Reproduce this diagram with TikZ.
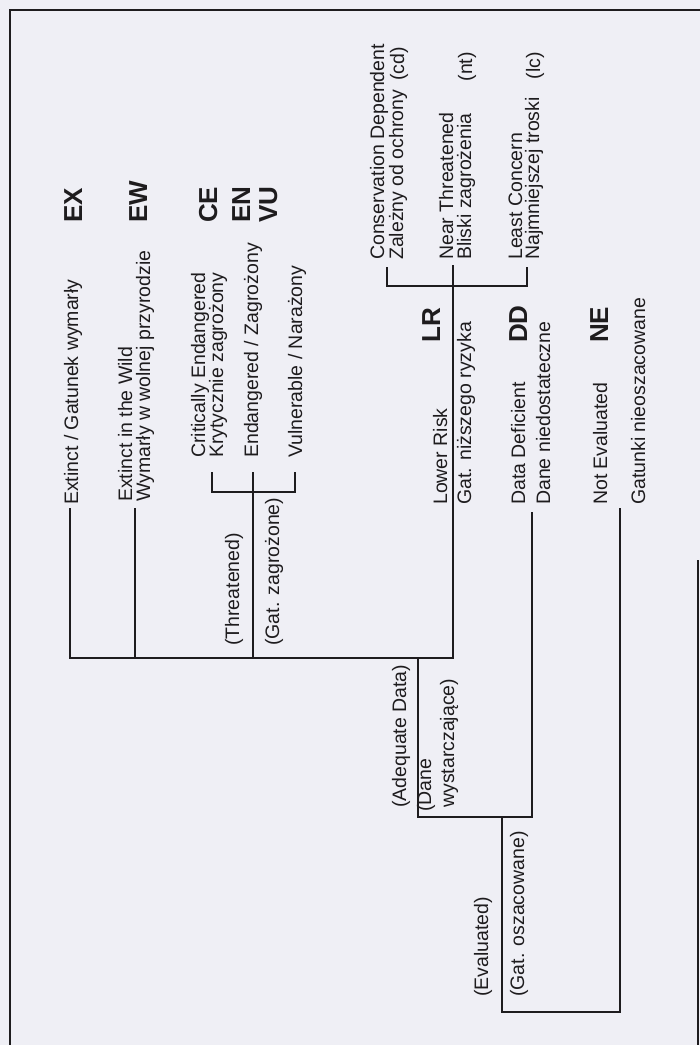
\documentclass[tikz,border=0pt]{standalone}
\usepackage{fontspec}
\setmainfont{Liberation Sans}
\definecolor{bg}{RGB}{239,239,245}
\definecolor{ink}{RGB}{30,28,30}
\begin{document}
\begin{tikzpicture}[x=1pt,y=-1pt,
  lbl/.style={rotate=90,anchor=base west,inner sep=0pt,font=\fontsize{19.5}{20}\selectfont,text=ink},
  lble/.style={rotate=90,anchor=base east,inner sep=0pt,font=\fontsize{19.5}{20}\selectfont,text=ink},
  abbr/.style={rotate=90,anchor=base west,inner sep=0pt,font=\fontsize{26}{26}\selectfont\bfseries,text=ink},
  ln/.style={draw=ink,line width=2pt},
  framel/.style={draw=ink,line width=2.2pt}]
\fill[bg] (0,0) rectangle (700,1045);
\useasboundingbox (0,0) rectangle (700,1045);
% frame
\coordinate (fTL) at (10,10);
\coordinate (fTR) at (700,10);
\coordinate (fBL) at (10,1045);
\coordinate (fR1) at (698,560);
\coordinate (fR2) at (698,1045);
\draw[framel] (fBL) -- (fTL) -- (fTR);
\draw[framel] (fR1) -- (fR2);

% abbreviations
\node[abbr] (ex) at (82,223) {EX};
\node[abbr] (ew) at (147,223) {EW};
\node[abbr] (ce) at (217,223) {CE};
\node[abbr] (en) at (250,223) {EN};
\node[abbr] (vu) at (277,223) {VU};
\node[abbr] (lr) at (440,343) {LR};
\node[abbr] (dd) at (527,343) {DD};
\node[abbr] (ne) at (608,343) {NE};

% left labels
\node[lbl] (tEX) at (78,505) {Extinct / Gatunek wymarły};
\node[lbl] (tEW1) at (132,502) {Extinct in the Wild};
\node[lbl] (tEW2) at (150,502) {Wymarły w wolnej przyrodzie};
\node[lbl] (tCE1) at (205,458) {Critically Endangered};
\node[lbl] (tCE2) at (223,458) {Krytycznie zagrożony};
\node[lbl] (tEN) at (258,458) {Endangered / Zagrożony};
\node[lbl] (tVU) at (302,458) {Vulnerable / Narażony};
\node[lbl] (tTh1) at (239,646) {(Threatened)};
\node[lbl] (tTh2) at (279,646) {(Gat. zagrożone)};

% right top labels
\node[lbl] (tCD1) at (384,260) {Conservation Dependent};
\node[lbl] (tCD2) at (403,260) {Zależny od ochrony};
\node[lble] (tCD3) at (404,47) {(cd)};
\node[lbl] (tNT1) at (453,260) {Near Threatened};
\node[lbl] (tNT2) at (471,260) {Bliski zagrożenia};
\node[lble] (tNT3) at (472,52) {(nt)};
\node[lbl] (tLC1) at (522,260) {Least Concern};
\node[lbl] (tLC2) at (539,260) {Najmniejszej troski};
\node[lble] (tLC3) at (540,52) {(lc)};

% right middle labels
\node[lbl] (tLR1) at (447,505) {Lower Risk};
\node[lbl] (tLR2) at (471,505) {Gat. niższego ryzyka};
\node[lbl] (tDD1) at (525,505) {Data Deficient};
\node[lbl] (tDD2) at (550,505) {Dane niedostateczne};
\node[lbl] (tNE1) at (607,505) {Not Evaluated};
\node[lbl] (tNE2) at (645,505) {Gatunki nieoszacowane};

% bottom group labels
\node[lbl] (tAD1) at (406,808) {(Adequate Data)};
\node[lbl] (tAD2) at (431,812) {(Dane};
\node[lbl] (tAD3) at (454,808) {wystarczające)};
\node[lbl] (tEv1) at (488,997) {(Evaluated)};
\node[lbl] (tEv2) at (524,997) {(Gat. oszacowane)};

% tree coordinates
\coordinate (exT) at (70,508);
\coordinate (exB) at (70,658);
\coordinate (ewT) at (135,508);
\coordinate (ewB) at (135,658);
\coordinate (thT) at (253,472);
\coordinate (thB) at (253,658);
\coordinate (thL) at (212,492);
\coordinate (thR) at (295,492);
\coordinate (thLt) at (212,472);
\coordinate (thRt) at (295,472);
\coordinate (lrT) at (453,265);
\coordinate (lrB) at (453,658);
\coordinate (lrL) at (387,286);
\coordinate (lrR) at (527,286);
\coordinate (lrLt) at (387,267);
\coordinate (lrRt) at (527,267);
\coordinate (adT) at (418,658);
\coordinate (adB) at (418,817);
\coordinate (ddT) at (532,512);
\coordinate (ddB) at (532,817);
\coordinate (evT) at (502,817);
\coordinate (evB) at (502,1012);
\coordinate (neT) at (620,508);
\coordinate (neB) at (620,1012);

% tree lines
\draw[ln] (exT) -- (exB) -- (lrB) -- (lrT);
\draw[ln] (ewT) -- (ewB);
\draw[ln] (thT) -- (thB);
\draw[ln] (thLt) -- (thL) -- (thR) -- (thRt);
\draw[ln] (lrLt) -- (lrL) -- (lrR) -- (lrRt);
\draw[ln] (adT) -- (adB) -- (ddB) -- (ddT);
\draw[ln] (evT) -- (evB) -- (neB) -- (neT);
\end{tikzpicture}
\end{document}
